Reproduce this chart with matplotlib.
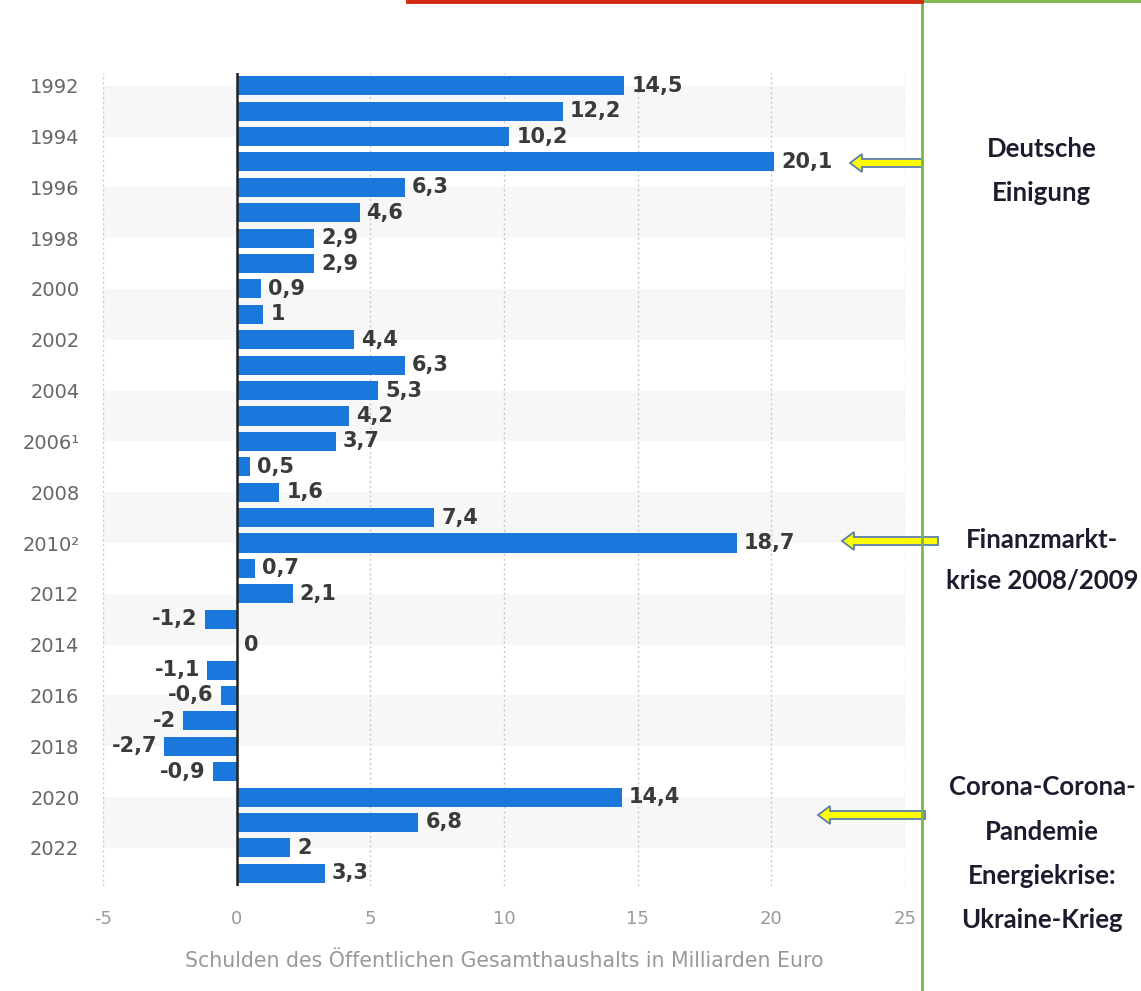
import matplotlib
matplotlib.use('Agg')
import matplotlib.pyplot as plt
import matplotlib.patches as mpatches
from matplotlib.lines import Line2D
from matplotlib.transforms import IdentityTransform

plt.rcParams['font.family'] = ['DejaVu Sans']

years = list(range(1992, 2024))
values = [14.5, 12.2, 10.2, 20.1, 6.3, 4.6, 2.9, 2.9, 0.9, 1.0,
          4.4, 6.3, 5.3, 4.2, 3.7, 0.5, 1.6, 7.4, 18.7, 0.7,
          2.1, -1.2, 0.0, -1.1, -0.6, -2.0, -2.7, -0.9, 14.4, 6.8,
          2.0, 3.3]
tick_years = list(range(1992, 2023, 2))
tick_labels = ['1992', '1994', '1996', '1998', '2000', '2002', '2004', '2006\u00b9',
               '2008', '2010\u00b2', '2012', '2014', '2016', '2018', '2020', '2022']
xticks = [-5, 0, 5, 10, 15, 20, 25]
xlabel = 'Schulden des \u00d6ffentlichen Gesamthaushalts in Milliarden Euro'

# annotations on the right: (lines, text centre y px, arrow y px, tail x px, tip x px)
notes = [
    (['Deutsche', 'Einigung'], [149, 193], 163, 922, 850),
    (['Finanzmarkt-', 'krise 2008/2009'], [540, 581], 541, 938, 842),
    (['Corona-Corona-', 'Pandemie', 'Energiekrise:', 'Ukraine-Krieg'], [787, 832, 876, 920], 815, 925, 818),
]

W, H = 1141, 991
fig = plt.figure(figsize=(W / 100, H / 100), dpi=100)
ax = fig.add_axes([103 / W, 1 - 886 / H, (905 - 103) / W, (886 - 73) / H])

bar_color = '#1a78dc'
ax.barh(years, values, height=0.75, color=bar_color, zorder=3)

# alternating bands
for y0 in range(1992, 2023, 4):
    ax.axhspan(y0, y0 + 2, color='#f7f7f7', zorder=0, lw=0)

for x in xticks:
    ax.axvline(x, color='#c8c8c8', lw=1, ls=(0, (1.5, 2)), zorder=1)
ax.axvline(0, color='#222222', lw=1.8, zorder=4)

for y, v in zip(years, values):
    s = ('%g' % v).replace('.', ',')
    if v < 0:
        ax.annotate(s, (v, y), xytext=(-5, 0), textcoords='offset points',
                    ha='right', va='center', fontsize=15, fontweight='bold',
                    color='#3a3a3a', zorder=5)
    else:
        ax.annotate(s, (v, y), xytext=(5, 0), textcoords='offset points',
                    ha='left', va='center', fontsize=15, fontweight='bold',
                    color='#3a3a3a', zorder=5)

ax.set_xlim(-5, 25)
ax.set_ylim(2023.5, 1991.5)
ax.set_yticks(tick_years)
ax.set_yticklabels(tick_labels, fontsize=14, color='#666666')
ax.set_xticks(xticks)
ax.set_xticklabels([str(x) for x in xticks], fontsize=13, color='#999999')
ax.tick_params(length=0)
ax.tick_params(axis='y', pad=17)
ax.tick_params(axis='x', pad=17)
ax.set_xlabel(xlabel, fontsize=14.8, color='#999999', labelpad=17)
for sp in ax.spines.values():
    sp.set_visible(False)

# decoration lines
def fx(px):
    return px / W

def fy(py):
    return 1 - py / H

fig.add_artist(Line2D([fx(922), fx(922)], [fy(0), fy(991)], color='#7ab648', lw=2))
fig.add_artist(Line2D([fx(922), fx(1141)], [fy(1), fy(1)], color='#7ab648', lw=2))
fig.add_artist(Line2D([fx(408), fx(921)], [fy(1), fy(1)], color='#d42a12', lw=3.5))

for lines, ys, ay, tail, tip in notes:
    for t, ty in zip(lines, ys):
        fig.text(fx(1042), fy(ty), t, ha='center', va='center', fontsize=18.5,
                 fontweight='bold', family=['Lato', 'DejaVu Sans'], color='#1c1c2e')
    arr = mpatches.FancyArrow(tail, H - ay, tip - tail, 0, width=8, head_width=18,
                              head_length=12, length_includes_head=True,
                              facecolor='#ffff00', edgecolor='#5a7fae', lw=1.3,
                              transform=IdentityTransform())
    fig.add_artist(arr)

fig.savefig('out.png', dpi=100)
